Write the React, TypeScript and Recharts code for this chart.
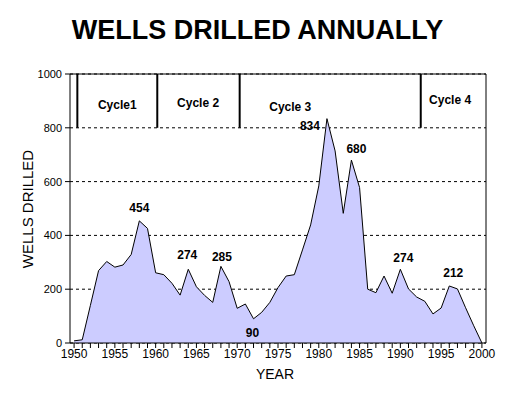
import React from 'react';
import {
  AreaChart,
  Area,
  XAxis,
  YAxis,
  CartesianGrid,
  ReferenceLine,
  ReferenceDot,
} from 'recharts';

// Annual well counts
const years = [
  1950, 1951, 1952, 1953, 1954, 1955, 1956, 1957, 1958, 1959,
  1960, 1961, 1962, 1963, 1964, 1965, 1966, 1967, 1968, 1969,
  1970, 1971, 1972, 1973, 1974, 1975, 1976, 1977, 1978, 1979,
  1980, 1981, 1982, 1983, 1984, 1985, 1986, 1987, 1988, 1989,
  1990, 1991, 1992, 1993, 1994, 1995, 1996, 1997, 1998, 1999,
  2000,
];
const wells = [
  8, 12, 140, 269, 303, 282, 290, 329, 454, 426,
  261, 254, 222, 178, 274, 209, 177, 151, 285, 228,
  129, 145, 90, 114, 151, 206, 249, 254, 346, 439,
  584, 834, 714, 482, 680, 578, 200, 187, 249, 185,
  274, 201, 171, 155, 108, 130, 212, 201, 131, 64,
  0,
];

const yTicks = [0, 200, 400, 600, 800, 1000];

// peak annotations
const labelYears = [1958, 1964, 1968, 1972, 1981, 1984, 1990, 1996];
const labelOffsets: [number, number][] = [
  [0, -9], [-1, -10], [1, -5], [-1, 18], [-17, 11], [5, -7], [3, -7], [4, -9],
];

// exploration cycles
const cycleNames = ['Cycle1', 'Cycle 2', 'Cycle 3', 'Cycle 4'];
const cycleStarts = [1950.4, 1960.2, 1970.3, 1992.5];
const cycleLabelAt: [number, number][] = [
  [1955.3, 886], [1965.2, 894], [1976.5, 878], [1996.1, 904],
];

const data = years.map((year, i) => ({ year, wells: wells[i] }));

const FONT = '"Liberation Sans", Arial, sans-serif';

const renderPeakLabel = (props: any) => {
  const { x, y, index } = props;
  const i = labelYears.indexOf(years[index]);
  if (i < 0) return <g key={`pl-${index}`} />;
  const [dx, dy] = labelOffsets[i];
  return (
    <text
      key={`pl-${index}`}
      x={x + dx}
      y={y + dy}
      textAnchor="middle"
      fontFamily={FONT}
      fontSize={12}
      fontWeight="bold"
      fill="#000"
    >
      {wells[index]}
    </text>
  );
};

const App: React.FC = () => {
  return (
    <div style={{ position: 'absolute', left: 0, top: 0, width: 523, height: 395, background: '#fff' }}>
      <AreaChart
        width={523}
        height={395}
        data={data}
        margin={{ top: 74, right: 37, left: 20, bottom: 22 }}
      >
        <CartesianGrid vertical={false} stroke="#000" strokeDasharray="3 3" />
        <XAxis
          dataKey="year"
          type="number"
          domain={[1949.5, 2000.5]}
          ticks={years}
          interval={0}
          tickFormatter={(v: number) => (v % 5 === 0 ? String(v) : '')}
          height={30}
          tickSize={5}
          tickMargin={1}
          axisLine={{ stroke: '#000' }}
          tickLine={{ stroke: '#000' }}
          tick={{ fill: '#000', fontSize: 12, fontFamily: FONT }}
        />
        <YAxis
          domain={[0, 1000]}
          ticks={yTicks}
          width={50}
          tickSize={5}
          tickMargin={3}
          axisLine={{ stroke: '#000' }}
          tickLine={{ stroke: '#000' }}
          tick={{ fill: '#000', fontSize: 11, fontFamily: FONT }}
        />
        <Area
          type="linear"
          dataKey="wells"
          stroke="#000"
          strokeWidth={1}
          fill="#CCCCFF"
          fillOpacity={1}
          dot={false}
          activeDot={false}
          isAnimationActive={false}
          label={renderPeakLabel}
        />
        <ReferenceLine y={1000} stroke="#000" strokeWidth={1} />
        <ReferenceLine x={2000.5} stroke="#000" strokeWidth={1} />
        {cycleStarts.map((x) => (
          <ReferenceLine
            key={`cl-${x}`}
            segment={[{ x, y: 800 }, { x, y: 1000 }]}
            stroke="#000"
            strokeWidth={2}
          />
        ))}
        {cycleNames.map((name, i) => (
          <ReferenceDot
            key={name}
            x={cycleLabelAt[i][0]}
            y={cycleLabelAt[i][1]}
            r={1}
            shape={(p: any) => (
              <text
                x={p.cx}
                y={p.cy + 4}
                textAnchor="middle"
                fontFamily={FONT}
                fontSize={12}
                fontWeight="bold"
                fill="#000"
              >
                {name}
              </text>
            )}
          />
        ))}
      </AreaChart>
      <svg
        width={523}
        height={395}
        style={{ position: 'absolute', left: 0, top: 0, pointerEvents: 'none' }}
      >
        <text x={257.5} y={39} textAnchor="middle" fontFamily={FONT} fontSize={27} fontWeight="bold" fill="#000">
          WELLS DRILLED ANNUALLY
        </text>
        <text x={275} y={379} textAnchor="middle" fontFamily={FONT} fontSize={14} fill="#000">
          YEAR
        </text>
        <text
          x={33}
          y={209}
          textAnchor="middle"
          fontFamily={FONT}
          fontSize={15}
          fill="#000"
          transform="rotate(-90 33 209)"
        >
          WELLS DRILLED
        </text>
      </svg>
    </div>
  );
};

export default App;
